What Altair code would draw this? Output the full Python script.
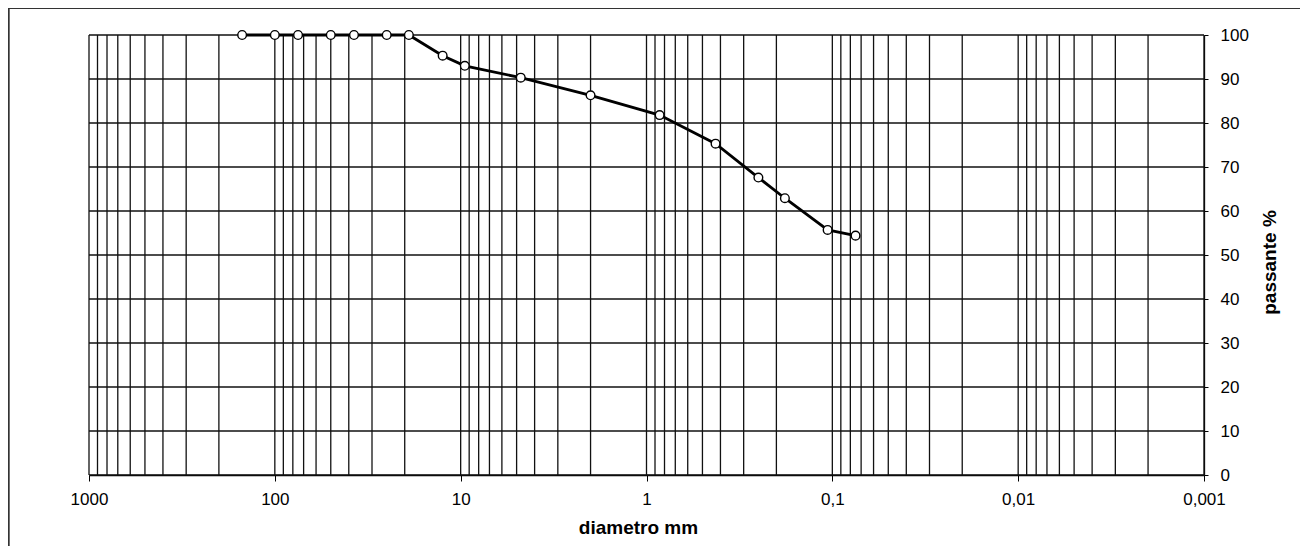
import altair as alt
import pandas as pd

# Grading curve
diametro = [150, 100, 75, 50, 37.5, 25, 19, 12.5, 9.5, 4.75, 2, 0.85, 0.425, 0.25, 0.18, 0.106, 0.075]
passante = [100, 100, 100, 100, 100, 100, 100, 95.3, 93.0, 90.3, 86.3, 81.8, 75.3, 67.6, 62.9, 55.7, 54.4]

# Axis ticks / grid
decades = [1000, 100, 10, 1, 0.1, 0.01, 0.001]
multipliers = [1, 2, 3, 4, 5, 6, 7, 8, 9]
y_ticks = [0, 10, 20, 30, 40, 50, 60, 70, 80, 90, 100]

minor = [1000] + [m * d for d in decades[1:] for m in multipliers]
minor = sorted(set(round(v, 6) for v in minor if 0.001 <= v <= 1000))

W, H = 1115, 440
FONT = "Liberation Sans"

curve = pd.DataFrame({"d": diametro, "p": passante})
gx = pd.DataFrame({"g": minor})
gy = pd.DataFrame({"h": y_ticks})

xscale = alt.Scale(type="log", domain=[0.001, 1000], reverse=True, nice=False)
yscale = alt.Scale(domain=[0, 100], nice=False)

xaxis = alt.Axis(
    values=decades,
    labelExpr="replace(toString(datum.value), '.', ',')",
    grid=False,
    title="diametro mm",
    titleFont=FONT, titleFontSize=19, titleFontWeight="bold", titleColor="black",
    titleX=549, titleY=58, titleAlign="center", titleBaseline="alphabetic",
    labelFont=FONT, labelFontSize=17, labelColor="black", labelPadding=10,
    labelFlush=False,
    tickSize=6, tickColor="black", domainColor="black", domainWidth=1.3,
)
yaxis = alt.Axis(
    orient="right",
    values=y_ticks,
    grid=False,
    title="passante %",
    titleFont=FONT, titleFontSize=19, titleFontWeight="bold", titleColor="black",
    titleAngle=270, titleX=65, titleY=227, titleAlign="center", titleBaseline="middle",
    labelFont=FONT, labelFontSize=17, labelColor="black", labelPadding=12,
    tickSize=4, tickColor="black", domainColor="black", domainWidth=1.3,
)

vgrid = alt.Chart(gx).mark_rule(color="#111", strokeWidth=1.3).encode(
    x=alt.X("g:Q", scale=xscale, axis=xaxis)
)
hgrid = alt.Chart(gy).mark_rule(color="#111", strokeWidth=1.3).encode(
    y=alt.Y("h:Q", scale=yscale, axis=yaxis)
)

line = alt.Chart(curve).mark_line(color="black", strokeWidth=2.8).encode(
    x=alt.X("d:Q", scale=xscale, axis=xaxis),
    y=alt.Y("p:Q", scale=yscale, axis=yaxis),
)
pts = alt.Chart(curve).mark_point(
    shape="circle", filled=True, fill="white", stroke="black", strokeWidth=1.4, size=75, opacity=1
).encode(
    x=alt.X("d:Q", scale=xscale, axis=xaxis),
    y=alt.Y("p:Q", scale=yscale, axis=yaxis),
)

# outer frame (left and top edges)
frame_left = alt.Chart(gy).mark_rule(color="#333", strokeWidth=1.2).encode(
    x=alt.value(-80.5), y=alt.value(-26.5), y2=alt.value(H + 75)
)
frame_top = alt.Chart(gy).mark_rule(color="#333", strokeWidth=1.2).encode(
    x=alt.value(-80.5), x2=alt.value(W + 96), y=alt.value(-26.5)
)

chart = alt.layer(vgrid, hgrid, line, pts, frame_left, frame_top).properties(
    width=W,
    height=H,
    padding={"left": 81, "top": 27, "right": 97, "bottom": 71},
    autosize=alt.AutoSizeParams(type="none"),
    background="white",
).configure_view(strokeWidth=0)

chart.save("out.html", embed_options={"renderer": "svg", "actions": False})
